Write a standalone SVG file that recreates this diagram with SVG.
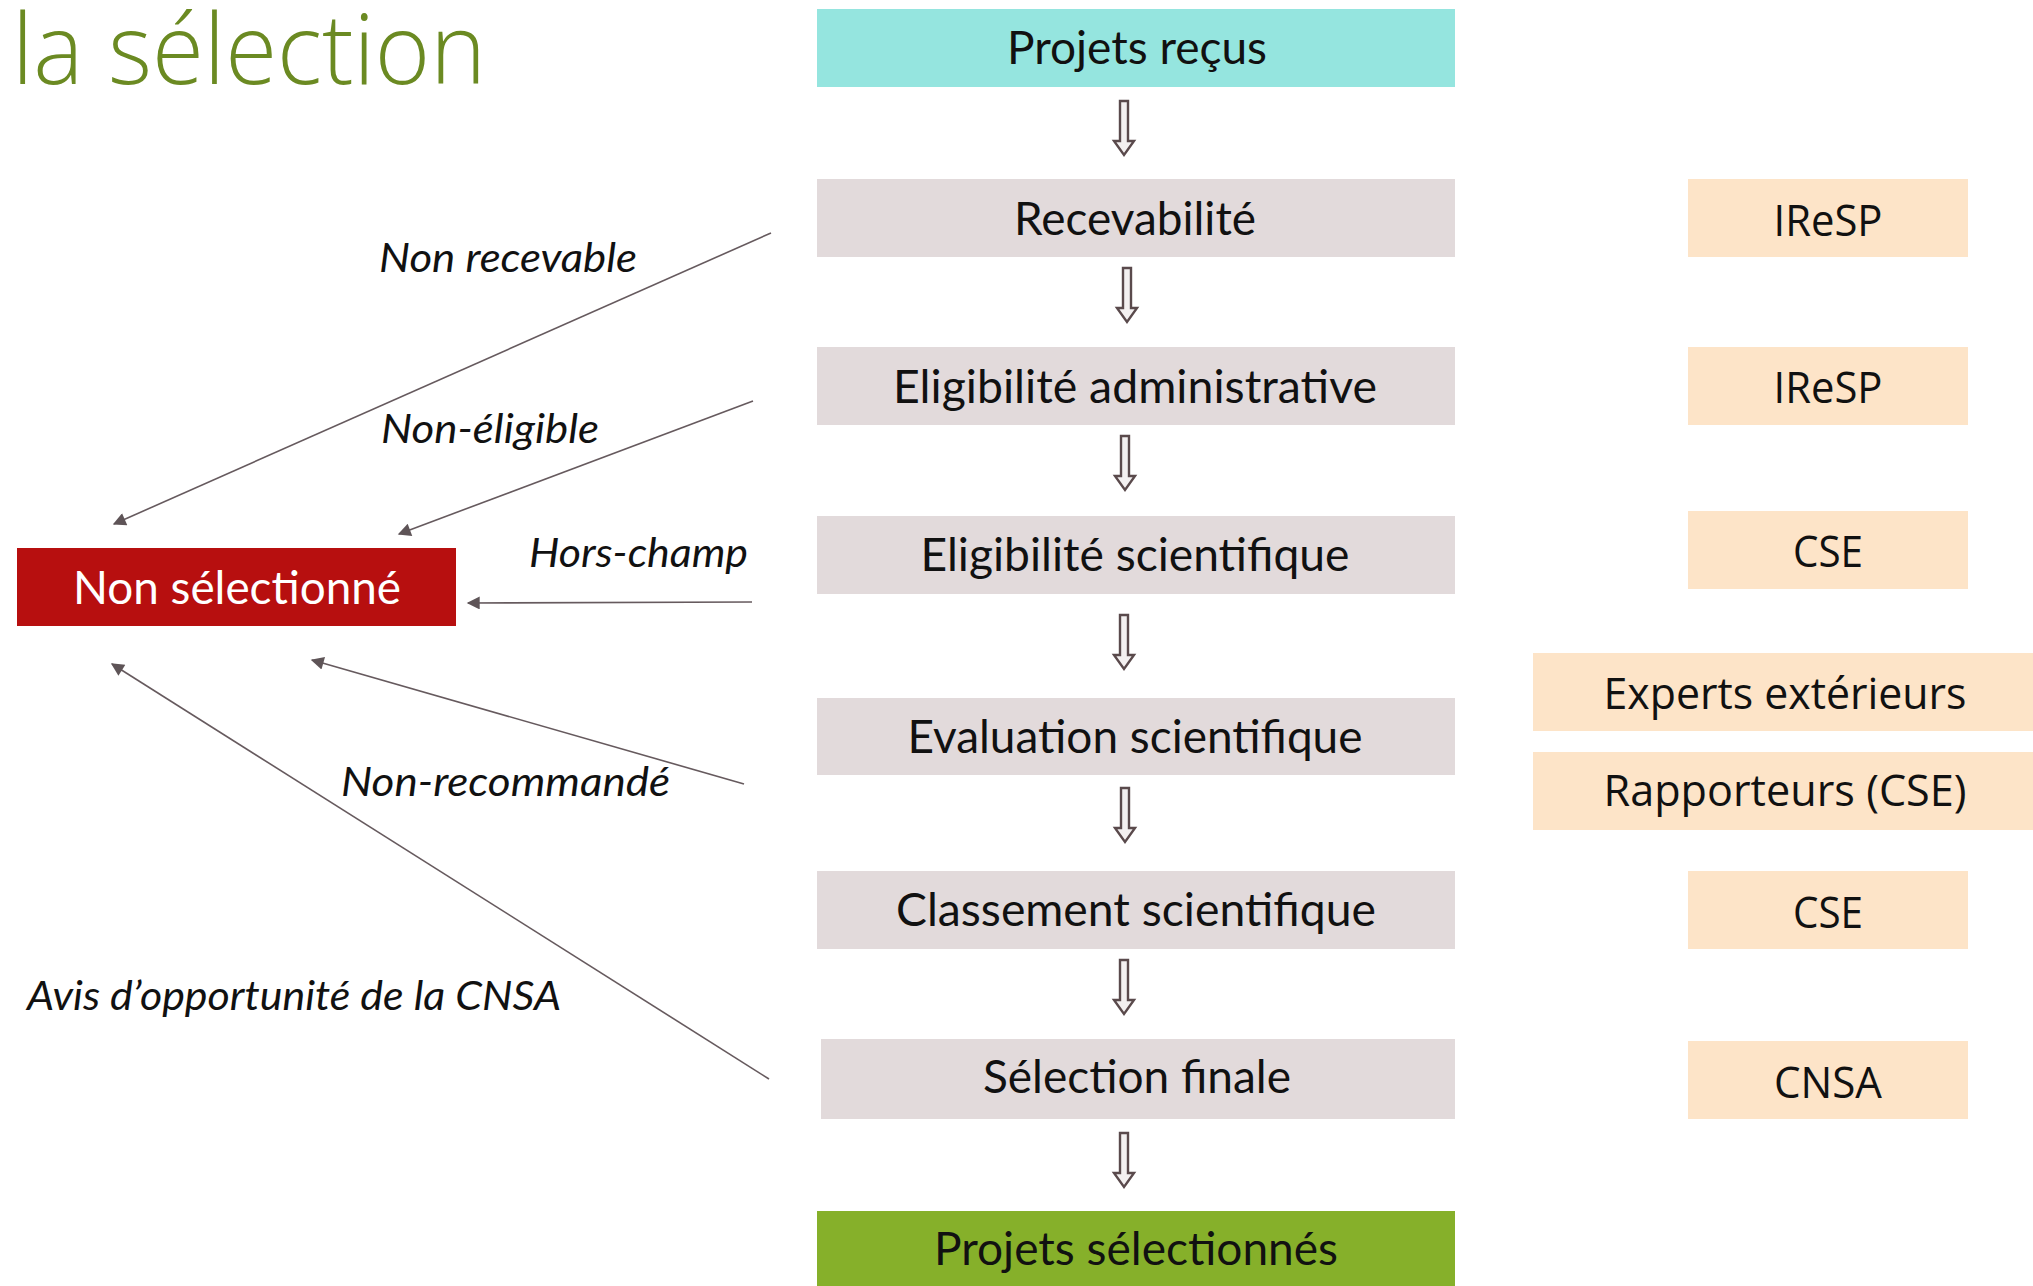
<svg xmlns="http://www.w3.org/2000/svg" width="2033" height="1286" viewBox="0 0 2033 1286">
<style>
.title{font-family:"Open Sans","Lato",sans-serif;font-weight:300;font-size:98px;fill:#6B8A22}
.step{font-family:"Lato","Liberation Sans",sans-serif;font-size:46px;fill:#111;text-anchor:middle}
.who{font-family:"Open Sans","Noto Sans",sans-serif;font-size:43px;fill:#111;text-anchor:middle}
.lbl{font-family:"Lato","Liberation Sans",sans-serif;font-style:italic;font-size:41px;fill:#111}
.gray{fill:#E2DADB}
.peach{fill:#FDE4C8}
.conn{stroke:#665A5E;stroke-width:1.6;fill:none;marker-end:url(#tip)}
.down{fill:#F3F0F0;stroke:#5A4A4C;stroke-width:2.4}
</style>
<defs>
<marker id="tip" viewBox="0 0 10 10" refX="9" refY="5" markerWidth="16" markerHeight="13" markerUnits="userSpaceOnUse" orient="auto">
<path d="M0,0 L10,5 L0,10 Z" fill="#5E5457"/>
</marker>
<path id="dn" d="M-4,0 H4 V40 H10 L0,54 L-10,40 H-4 Z"/>
</defs>
<rect width="2033" height="1286" fill="#FFFFFF"/>
<text class="title" x="12" y="84" textLength="474" lengthAdjust="spacingAndGlyphs">la sélection</text>

<g id="n-recus"><rect x="817" y="9" width="638" height="78" fill="#95E5DF"/><text class="step" x="1137" y="64" textLength="260" lengthAdjust="spacingAndGlyphs">Projets reçus</text></g>
<g id="n-recevabilite"><rect class="gray" x="817" y="179" width="638" height="78"/><text class="step" x="1135" y="235" textLength="242" lengthAdjust="spacingAndGlyphs">Recevabilité</text></g>
<g id="n-elig-admin"><rect class="gray" x="817" y="347" width="638" height="78"/><text class="step" x="1135" y="403" textLength="484" lengthAdjust="spacingAndGlyphs">Eligibilité administrative</text></g>
<g id="n-elig-sci"><rect class="gray" x="817" y="516" width="638" height="78"/><text class="step" x="1135" y="571" textLength="429" lengthAdjust="spacingAndGlyphs">Eligibilité scientifique</text></g>
<g id="n-eval"><rect class="gray" x="817" y="698" width="638" height="77"/><text class="step" x="1135" y="753" textLength="455" lengthAdjust="spacingAndGlyphs">Evaluation scientifique</text></g>
<g id="n-classement"><rect class="gray" x="817" y="871" width="638" height="78"/><text class="step" x="1136" y="926" textLength="480" lengthAdjust="spacingAndGlyphs">Classement scientifique</text></g>
<g id="n-selection"><rect class="gray" x="821" y="1039" width="634" height="80"/><text class="step" x="1137" y="1093" textLength="308" lengthAdjust="spacingAndGlyphs">Sélection finale</text></g>
<g id="n-selectionnes"><rect x="817" y="1211" width="638" height="75" fill="#86B02A"/><text class="step" x="1136" y="1265" textLength="404" lengthAdjust="spacingAndGlyphs">Projets sélectionnés</text></g>

<g id="n-non-selectionne"><rect x="17" y="548" width="439" height="78" fill="#B70F0F"/><text x="237" y="604" style="font-family:Lato,'Liberation Sans',sans-serif;font-size:46px;fill:#FFFFFF;text-anchor:middle" textLength="328" lengthAdjust="spacingAndGlyphs">Non sélectionné</text></g>

<g id="r-iresp1"><rect class="peach" x="1688" y="179" width="280" height="78"/><text class="who" x="1828" y="236" textLength="109" lengthAdjust="spacingAndGlyphs">IReSP</text></g>
<g id="r-iresp2"><rect class="peach" x="1688" y="347" width="280" height="78"/><text class="who" x="1828" y="403" textLength="109" lengthAdjust="spacingAndGlyphs">IReSP</text></g>
<g id="r-cse1"><rect class="peach" x="1688" y="511" width="280" height="78"/><text class="who" x="1828" y="567" textLength="70" lengthAdjust="spacingAndGlyphs">CSE</text></g>
<g id="r-experts"><rect class="peach" x="1533" y="653" width="500" height="78"/><text class="who" x="1785" y="709" textLength="363" lengthAdjust="spacingAndGlyphs">Experts extérieurs</text></g>
<g id="r-rapporteurs"><rect class="peach" x="1533" y="752" width="500" height="78"/><text class="who" x="1785" y="806" textLength="363" lengthAdjust="spacingAndGlyphs">Rapporteurs (CSE)</text></g>
<g id="r-cse2"><rect class="peach" x="1688" y="871" width="280" height="78"/><text class="who" x="1828" y="928" textLength="70" lengthAdjust="spacingAndGlyphs">CSE</text></g>
<g id="r-cnsa"><rect class="peach" x="1688" y="1041" width="280" height="78"/><text class="who" x="1828" y="1098" textLength="108" lengthAdjust="spacingAndGlyphs">CNSA</text></g>

<g id="connectors">
<use href="#dn" class="down" x="1124" y="101"/>
<use href="#dn" class="down" x="1127" y="268"/>
<use href="#dn" class="down" x="1125" y="436"/>
<use href="#dn" class="down" x="1124" y="615"/>
<use href="#dn" class="down" x="1125" y="788"/>
<use href="#dn" class="down" x="1124" y="960"/>
<use href="#dn" class="down" x="1124" y="1133"/>
<line class="conn" x1="771" y1="233" x2="114" y2="524"/>
<line class="conn" x1="753" y1="401" x2="399" y2="534"/>
<line class="conn" x1="752" y1="602" x2="468" y2="603"/>
<line class="conn" x1="744" y1="784" x2="312" y2="660"/>
<line class="conn" x1="769" y1="1079" x2="112" y2="664"/>
</g>
<g id="labels">
<text class="lbl" x="379" y="272" textLength="258" lengthAdjust="spacingAndGlyphs">Non recevable</text>
<text class="lbl" x="381" y="443" textLength="218" lengthAdjust="spacingAndGlyphs">Non-éligible</text>
<text class="lbl" x="529" y="567" textLength="219" lengthAdjust="spacingAndGlyphs">Hors-champ</text>
<text class="lbl" x="341" y="796" textLength="329" lengthAdjust="spacingAndGlyphs">Non-recommandé</text>
<text class="lbl" x="27" y="1010" textLength="534" lengthAdjust="spacingAndGlyphs">Avis d’opportunité de la CNSA</text>
</g>
</svg>
